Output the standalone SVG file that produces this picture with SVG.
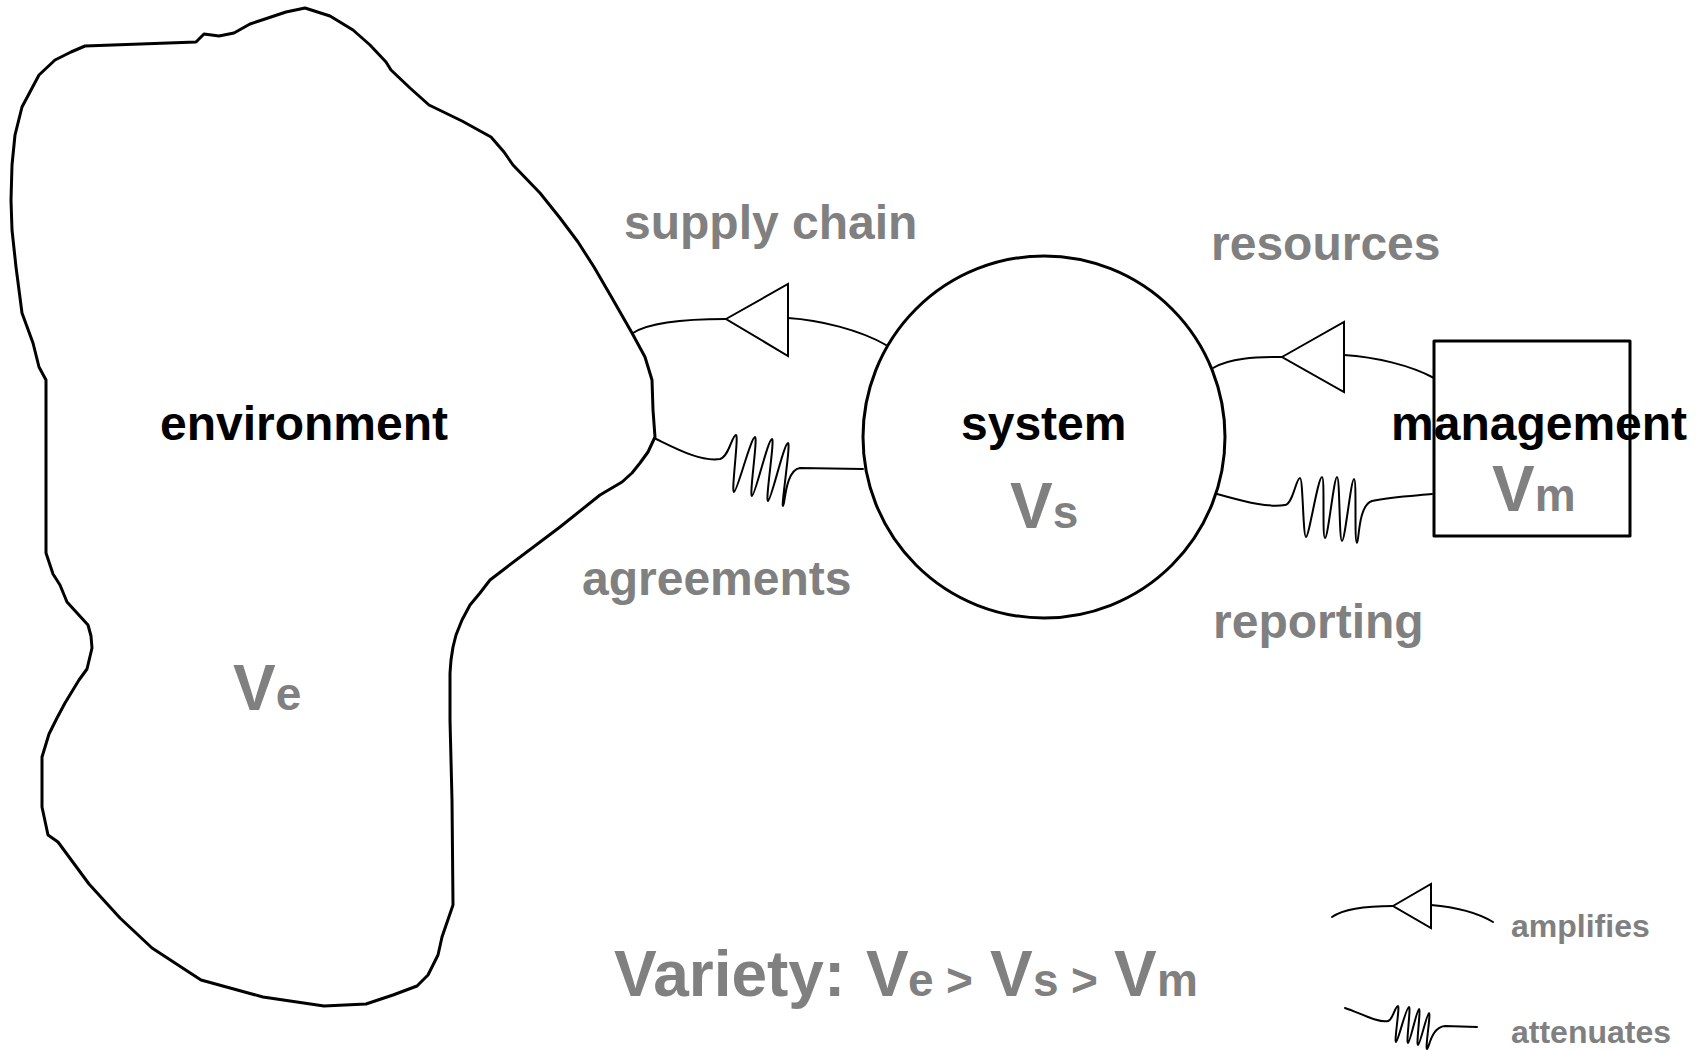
<svg xmlns="http://www.w3.org/2000/svg" width="1701" height="1050" viewBox="0 0 1701 1050">
<style>
.shape{fill:none;stroke:#000;stroke-width:3;stroke-linejoin:round;stroke-linecap:round}
.conn{fill:none;stroke:#000;stroke-width:2;stroke-linejoin:round;stroke-linecap:round}
.tri{fill:#fff;stroke:#000;stroke-width:2;stroke-linejoin:miter}
.name{font-family:"Liberation Sans",Arial,sans-serif;font-weight:bold;font-size:48px;fill:#000}
.lbl{font-family:"Liberation Sans",Arial,sans-serif;font-weight:bold;font-size:48px;fill:#808080}
.var{font-family:"Liberation Sans",Arial,sans-serif;font-weight:bold;font-size:64px;fill:#808080}
.sub{font-size:46px}
.leg{font-family:"Liberation Sans",Arial,sans-serif;font-weight:bold;font-size:32px;fill:#808080}
</style>
<rect width="1701" height="1050" fill="#fff"/>
<g id="environment">
<path class="shape" d="M85,46 L196,42 L204,34 L219,36 L234,33 L250,24 L268,18 L286,12 L305,8 L330,16 L353,30 L370,45 L386,62 L391,70 L410,88 L429,105 L462,121 L491,137 L504,152 L513,165 L540,193 L560,218 L578,242 L594,267 L612,298 L632,333 L645,357 L652,380 L653,410 L655,437 L648,452 L640,463 L632,473 L622,482 L600,495 L560,527 L507,567 L490,580 L480,593 L470,605 L462,620 L456,635 L453,647 L451,660 L450,673 L450,720 L452,800 L453,905 L442,937 L438,955 L428,975 L417,986 L393,995 L366,1004 L324,1006 L263,997 L201,980 L152,948 L120,918 L89,884 L58,842 L48,835 L42,807 L42,757 L49,734 L57,718 L65,703 L79,680 L87,669 L92,648 L91,636 L88,625 L67,602 L60,585 L53,574 L46,553 L46,500 L46,380 L39,367 L33,343 L22,313 L16,267 L12,230 L11,200 L12,165 L15,135 L22,107 L39,75 L55,60 L71,52 Z"/>
<text class="name" x="160" y="440">environment</text>
<text class="var" x="233" y="710">V<tspan class="sub">e</tspan></text>
</g>
<g id="system">
<circle class="shape" cx="1044" cy="437" r="181"/>
<text class="name" x="961" y="440">system</text>
<text class="var" x="1010" y="528">V<tspan class="sub">s</tspan></text>
</g>
<g id="management">
<rect class="shape" x="1434" y="341" width="196" height="195"/>
<text class="name" x="1391" y="440">management</text>
<text class="var" x="1492" y="511">V<tspan class="sub">m</tspan></text>
</g>
<g id="connectors">
<g id="supply-chain">
<path class="conn" d="M633,333 C650,322 690,319 726,319"/>
<path class="conn" d="M788,318 C820,320 860,330 886,345"/>
<polygon class="tri" points="726,319 788,284 788,356"/>
</g>
<g id="agreements">
<path class="conn" d="M654,438 C675,448 700,462 720,459 C729,457 732,435 736,435 C739,435 731,492 734,492 C737,492 751,437 755,437 C758,437 749,496 752,496 C755,496 768,439 772,439 C775,439 765,501 768,501 C771,501 784,443 788,443 C791,443 781,506 783,506 C785,506 785,470 800,468 L863,469"/>
</g>
<g id="resources">
<path class="conn" d="M1213,368 C1230,358 1255,357 1282,357"/>
<path class="conn" d="M1344,355 C1375,357 1410,365 1434,378"/>
<polygon class="tri" points="1282,357 1344,322 1344,392"/>
</g>
<g id="reporting">
<path class="conn" d="M1217,494 C1240,500 1265,508 1285,505 C1293,504 1296,478 1300,478 C1303,478 1303,537 1306,537 C1309,537 1318,477 1322,477 C1325,477 1322,538 1325,538 C1328,538 1334,477 1337,477 C1340,477 1339,541 1342,541 C1345,541 1351,479 1354,479 C1357,479 1354,543 1357,543 C1359,543 1358,505 1372,501 C1390,497 1410,496 1432,494"/>
</g>
</g>
<g id="labels">
<text class="lbl" x="624" y="239">supply chain</text>
<text class="lbl" x="582" y="595">agreements</text>
<text class="lbl" x="1211" y="260">resources</text>
<text class="lbl" x="1213" y="638">reporting</text>
<text class="var" y="996"><tspan x="614">Variety:</tspan><tspan x="866">V</tspan><tspan class="sub" x="908">e</tspan><tspan class="sub" x="946">&gt;</tspan><tspan x="990">V</tspan><tspan class="sub" x="1033">s</tspan><tspan class="sub" x="1071">&gt;</tspan><tspan x="1114">V</tspan><tspan class="sub" x="1157">m</tspan></text>
</g>
<g id="legend">
<path class="conn" d="M1332,917 C1345,908 1370,906 1393,906"/>
<path class="conn" d="M1431,905 C1455,907 1478,913 1493,922"/>
<polygon class="tri" points="1393,906 1431,884 1431,928"/>
<text class="leg" x="1511" y="937">amplifies</text>
<path class="conn" d="M1345,1008 C1360,1013 1378,1023 1388,1021 C1393,1020 1395,1006 1398,1006 C1400,1006 1394,1042 1396,1042 C1398,1042 1406,1007 1409,1007 C1411,1007 1406,1043 1408,1043 C1410,1043 1417,1009 1419,1009 C1421,1009 1416,1045 1418,1045 C1420,1045 1427,1013 1429,1013 C1431,1013 1425,1049 1427,1049 C1429,1049 1431,1027 1445,1026 L1477,1027"/>
<text class="leg" x="1511" y="1043">attenuates</text>
</g>
</svg>
